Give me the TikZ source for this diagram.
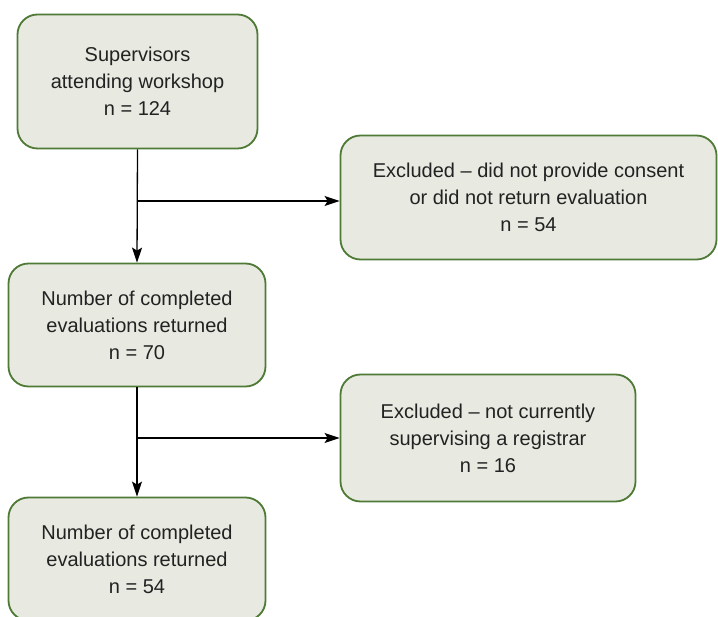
\documentclass[tikz,border=0pt]{standalone}
\usepackage{fontspec}
\setmainfont{Liberation Sans}
\usetikzlibrary{arrows.meta}
\definecolor{boxfill}{HTML}{E8EAE1}
\definecolor{boxline}{HTML}{4E7A35}
\definecolor{txt}{HTML}{222222}
\tikzset{
  flowbox/.style={draw=boxline, fill=boxfill, line width=1.8pt, rounded corners=20pt,
    align=center, text=txt, inner sep=0pt,
    font=\fontsize{20}{27}\selectfont},
  flowarrow/.style={line width=1.3pt, -{Stealth[length=15pt,width=10pt,inset=3pt]}},
  flowline/.style={line width=1.3pt}
}
\begin{document}
\begin{tikzpicture}[x=1pt,y=-1pt]
\useasboundingbox (0,0) rectangle (718,617);
\node[flowbox, minimum width=240pt, minimum height=134pt] (b1) at (137.5,81.5)
  {Supervisors\\attending workshop\\n = 124};
\node[flowbox, minimum width=376pt, minimum height=124pt] (b2) at (528.5,197.5)
  {Excluded -- did not provide consent\\or did not return evaluation\\n = 54};
\node[flowbox, minimum width=257pt, minimum height=123pt] (b3) at (137,325)
  {Number of completed\\evaluations returned\\n = 70};
\node[flowbox, minimum width=295pt, minimum height=127pt] (b4) at (488,438)
  {Excluded -- not currently\\supervising a registrar\\n = 16};
\node[flowbox, minimum width=257pt, minimum height=123pt] (b5) at (137,559)
  {Number of completed\\evaluations returned\\n = 54};
\coordinate (j1) at (137,201);
\coordinate (j2) at (137,438);
\draw[flowarrow] (b1.south) -- (b3.north);
\draw[flowarrow] (j1) -- (j1 -| b2.west);
\draw[flowarrow] (b3.south) -- (b5.north);
\draw[flowarrow] (j2) -- (j2 -| b4.west);
\end{tikzpicture}
\end{document}
